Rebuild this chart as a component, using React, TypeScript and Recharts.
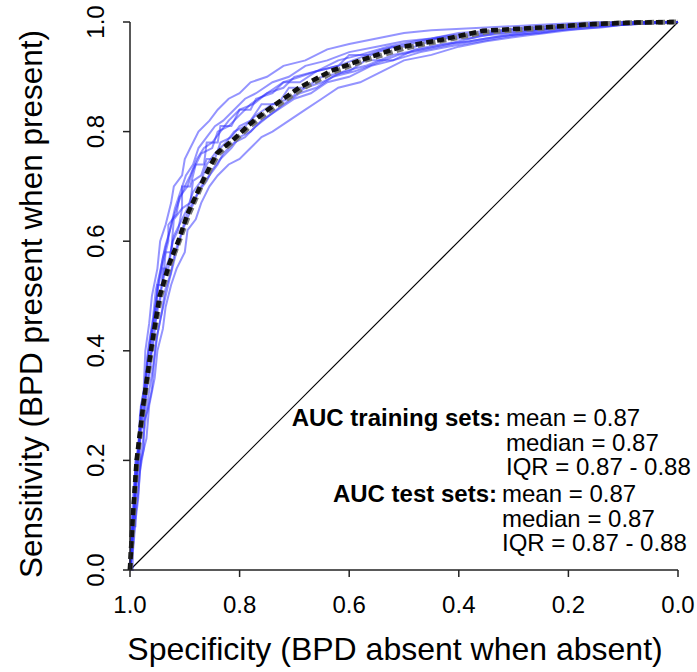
import React from "react"
import { LineChart, Line, XAxis, YAxis } from "recharts"

type Pt = { spec: number; sens: number }
const pts = (rows: number[][]): Pt[] => rows.map(([spec, sens]) => ({ spec, sens }))

// single resampling runs (training + test)
const run1 = pts([[1,0],[0.996,0.06],[0.993,0.12],[0.99,0.18],[0.985,0.22],[0.982,0.28],[0.975,0.33],[0.972,0.4],[0.965,0.45],[0.96,0.5],[0.95,0.55],[0.945,0.6],[0.935,0.63],[0.925,0.67],[0.92,0.7],[0.905,0.72],[0.9,0.75],[0.89,0.77],[0.875,0.8],[0.855,0.82],[0.84,0.84],[0.82,0.86],[0.8,0.87],[0.78,0.89],[0.75,0.9],[0.72,0.92],[0.68,0.93],[0.64,0.95],[0.6,0.96],[0.55,0.97],[0.5,0.98],[0.45,0.985],[0.35,0.99],[0.25,0.995],[0.15,1],[0,1]])
const run2 = pts([[1,0],[0.994,0.05],[0.99,0.1],[0.985,0.14],[0.98,0.2],[0.97,0.24],[0.965,0.3],[0.955,0.35],[0.95,0.4],[0.94,0.44],[0.935,0.48],[0.925,0.52],[0.915,0.55],[0.9,0.58],[0.895,0.62],[0.88,0.64],[0.87,0.67],[0.855,0.7],[0.84,0.72],[0.82,0.74],[0.8,0.75],[0.78,0.77],[0.76,0.79],[0.74,0.8],[0.71,0.82],[0.68,0.84],[0.65,0.86],[0.62,0.88],[0.58,0.89],[0.54,0.91],[0.5,0.93],[0.45,0.94],[0.4,0.955],[0.35,0.965],[0.28,0.975],[0.2,0.985],[0.1,0.995],[0,1]])
const run3 = pts([[1,0],[0.995,0.08],[0.99,0.15],[0.985,0.2],[0.98,0.26],[0.975,0.3],[0.97,0.36],[0.962,0.42],[0.955,0.47],[0.948,0.52],[0.94,0.56],[0.93,0.6],[0.93,0.63],[0.915,0.65],[0.91,0.68],[0.895,0.7],[0.885,0.73],[0.87,0.76],[0.85,0.77],[0.84,0.8],[0.82,0.81],[0.8,0.83],[0.78,0.85],[0.75,0.87],[0.72,0.88],[0.7,0.9],[0.66,0.91],[0.62,0.93],[0.58,0.94],[0.53,0.955],[0.48,0.965],[0.42,0.975],[0.35,0.98],[0.28,0.99],[0.2,0.995],[0.1,1],[0,1]])
const run4 = pts([[1,0],[0.997,0.05],[0.992,0.11],[0.988,0.17],[0.982,0.23],[0.978,0.27],[0.97,0.32],[0.965,0.37],[0.958,0.41],[0.952,0.46],[0.945,0.5],[0.938,0.54],[0.928,0.57],[0.92,0.61],[0.905,0.64],[0.895,0.66],[0.885,0.69],[0.87,0.71],[0.86,0.74],[0.845,0.76],[0.825,0.78],[0.81,0.8],[0.79,0.81],[0.77,0.83],[0.74,0.85],[0.71,0.86],[0.68,0.88],[0.65,0.89],[0.61,0.91],[0.57,0.92],[0.52,0.94],[0.47,0.95],[0.42,0.96],[0.36,0.975],[0.3,0.98],[0.22,0.99],[0.12,0.995],[0,1]])
const run5 = pts([[1,0],[0.996,0.07],[0.991,0.13],[0.987,0.19],[0.983,0.25],[0.976,0.31],[0.972,0.35],[0.966,0.41],[0.958,0.46],[0.953,0.51],[0.944,0.55],[0.936,0.59],[0.927,0.62],[0.918,0.66],[0.908,0.69],[0.898,0.72],[0.885,0.74],[0.875,0.77],[0.86,0.79],[0.845,0.81],[0.83,0.82],[0.81,0.84],[0.79,0.86],[0.77,0.87],[0.74,0.89],[0.71,0.9],[0.68,0.92],[0.64,0.93],[0.6,0.945],[0.55,0.955],[0.5,0.965],[0.45,0.97],[0.4,0.98],[0.33,0.985],[0.25,0.99],[0.18,0.995],[0.08,1],[0,1]])
const run6 = pts([[1,0],[0.995,0.06],[0.99,0.12],[0.984,0.17],[0.978,0.22],[0.972,0.27],[0.966,0.32],[0.958,0.37],[0.952,0.42],[0.944,0.46],[0.935,0.5],[0.928,0.53],[0.918,0.57],[0.91,0.6],[0.9,0.63],[0.888,0.66],[0.875,0.69],[0.86,0.71],[0.85,0.73],[0.835,0.75],[0.815,0.77],[0.8,0.79],[0.78,0.8],[0.76,0.82],[0.73,0.84],[0.7,0.86],[0.67,0.87],[0.64,0.89],[0.6,0.9],[0.56,0.92],[0.52,0.93],[0.47,0.945],[0.42,0.955],[0.36,0.965],[0.3,0.975],[0.22,0.985],[0.14,0.99],[0.06,1],[0,1]])
const run7 = pts([[1,0],[0.997,0.07],[0.994,0.14],[0.989,0.2],[0.983,0.24],[0.98,0.3],[0.972,0.34],[0.968,0.39],[0.96,0.44],[0.954,0.48],[0.947,0.53],[0.94,0.57],[0.932,0.6],[0.922,0.64],[0.912,0.67],[0.9,0.7],[0.89,0.72],[0.878,0.75],[0.865,0.77],[0.85,0.78],[0.835,0.8],[0.82,0.82],[0.8,0.84],[0.775,0.85],[0.75,0.87],[0.72,0.89],[0.69,0.9],[0.66,0.91],[0.62,0.92],[0.58,0.935],[0.54,0.95],[0.49,0.96],[0.44,0.97],[0.38,0.975],[0.3,0.985],[0.2,0.99],[0.1,0.995],[0,1]])
const run8 = pts([[1,0],[0.994,0.04],[0.99,0.09],[0.985,0.13],[0.982,0.18],[0.975,0.22],[0.975,0.27],[0.968,0.29],[0.96,0.33],[0.956,0.38],[0.95,0.43],[0.942,0.47],[0.936,0.51],[0.926,0.54],[0.918,0.58],[0.908,0.61],[0.896,0.65],[0.886,0.67],[0.87,0.7],[0.855,0.72],[0.84,0.74],[0.83,0.76],[0.81,0.78],[0.79,0.79],[0.77,0.81],[0.745,0.83],[0.72,0.85],[0.69,0.87],[0.66,0.88],[0.63,0.9],[0.59,0.91],[0.55,0.925],[0.51,0.94],[0.46,0.95],[0.41,0.96],[0.35,0.97],[0.28,0.98],[0.2,0.99],[0.1,0.995],[0,1]])
const run9 = pts([[1,0],[0.995,0],[0.995,0.08],[0.99,0.08],[0.99,0.16],[0.982,0.2],[0.982,0.26],[0.975,0.26],[0.97,0.33],[0.962,0.37],[0.962,0.43],[0.952,0.46],[0.95,0.52],[0.94,0.52],[0.935,0.58],[0.925,0.58],[0.92,0.64],[0.905,0.66],[0.905,0.7],[0.89,0.7],[0.88,0.74],[0.865,0.74],[0.86,0.78],[0.84,0.78],[0.835,0.81],[0.815,0.81],[0.8,0.84],[0.78,0.84],[0.77,0.86],[0.74,0.87],[0.72,0.89],[0.69,0.89],[0.66,0.91],[0.62,0.92],[0.6,0.94],[0.56,0.94],[0.52,0.955],[0.48,0.955],[0.44,0.97],[0.38,0.97],[0.33,0.98],[0.25,0.985],[0.2,0.995],[0.1,0.995],[0.05,1],[0,1]])
const run10 = pts([[1,0],[0.997,0.1],[0.993,0.1],[0.99,0.2],[0.984,0.22],[0.98,0.3],[0.974,0.3],[0.968,0.38],[0.96,0.4],[0.955,0.47],[0.945,0.49],[0.94,0.55],[0.93,0.55],[0.922,0.6],[0.912,0.62],[0.905,0.66],[0.89,0.67],[0.885,0.71],[0.87,0.72],[0.86,0.75],[0.845,0.75],[0.835,0.78],[0.815,0.79],[0.8,0.81],[0.78,0.82],[0.76,0.85],[0.73,0.85],[0.71,0.88],[0.68,0.88],[0.65,0.9],[0.6,0.91],[0.57,0.93],[0.52,0.93],[0.48,0.95],[0.43,0.96],[0.38,0.965],[0.32,0.975],[0.25,0.98],[0.18,0.99],[0.12,0.995],[0,1]])
const runs = [run1, run2, run3, run4, run5, run6, run7, run8, run9, run10]

// averaged curves (thick dashed)
const meanTrain = pts([[1,0],[0.996,0.08],[0.988,0.2],[0.976,0.3],[0.962,0.4],[0.946,0.5],[0.928,0.56],[0.912,0.6],[0.895,0.65],[0.872,0.7],[0.855,0.735],[0.841,0.761],[0.812,0.785],[0.78,0.815],[0.75,0.839],[0.69,0.881],[0.635,0.91],[0.58,0.93],[0.507,0.954],[0.434,0.967],[0.356,0.984],[0.234,0.991],[0.16,0.996],[0.08,0.999],[0,1]])
const meanTest = pts([[1,0],[0.995,0.08],[0.987,0.2],[0.975,0.3],[0.961,0.4],[0.944,0.5],[0.926,0.56],[0.91,0.6],[0.892,0.65],[0.87,0.7],[0.852,0.735],[0.838,0.76],[0.808,0.785],[0.776,0.814],[0.745,0.838],[0.685,0.879],[0.63,0.908],[0.575,0.929],[0.5,0.952],[0.43,0.966],[0.35,0.982],[0.23,0.99],[0.155,0.996],[0.08,0.999],[0,1]])
const chance = pts([[1,0],[0,1]])

const xTicks = [1, 0.8, 0.6, 0.4, 0.2, 0]
const yTicks = [0, 0.2, 0.4, 0.6, 0.8, 1]
const xTitle = "Specificity (BPD absent when absent)"
const yTitle = "Sensitivity (BPD present when present)"
const trainLines = ["mean = 0.87", "median = 0.87", "IQR = 0.87 - 0.88"]
const testLines = ["mean = 0.87", "median = 0.87", "IQR = 0.87 - 0.88"]

const font = "'Liberation Sans', Arial, sans-serif"

const XTick = (props: any) => (
  <text x={props.x} y={613} textAnchor="middle" fontSize={24} fontFamily={font} fill="#000">
    {props.payload.value.toFixed(1)}
  </text>
)

const YTick = (props: any) => (
  <g transform={`translate(104, ${props.y}) rotate(-90)`}>
    <text x={0} y={0} textAnchor="middle" fontSize={24} fontFamily={font} fill="#000">
      {props.payload.value.toFixed(1)}
    </text>
  </g>
)

export default function App() {
  return (
    <div style={{ position: "absolute", left: 0, top: 0, width: 697, height: 672, background: "#fff" }}>
      <LineChart width={697} height={672} margin={{ top: 22, right: 19, bottom: 0, left: 0 }}>
        <XAxis
          type="number"
          dataKey="spec"
          domain={[0, 1]}
          reversed
          ticks={xTicks}
          tick={XTick}
          tickSize={7}
          height={102}
          axisLine={{ stroke: "#222", strokeWidth: 1.5 }}
          tickLine={{ stroke: "#222", strokeWidth: 1.5 }}
        />
        <YAxis
          type="number"
          dataKey="sens"
          domain={[0, 1]}
          ticks={yTicks}
          tick={YTick}
          tickSize={7}
          width={130}
          axisLine={{ stroke: "#222", strokeWidth: 1.5 }}
          tickLine={{ stroke: "#222", strokeWidth: 1.5 }}
        />
        <Line data={chance} dataKey="sens" stroke="#000" strokeWidth={1.2} dot={false} activeDot={false} isAnimationActive={false} />
        {runs.map((r, i) => (
          <Line
            key={i}
            data={r}
            dataKey="sens"
            stroke="#2a2aff"
            strokeOpacity={0.5}
            strokeWidth={2}
            dot={false}
            activeDot={false}
            isAnimationActive={false}
          />
        ))}
        <Line data={meanTest} dataKey="sens" stroke="#777" strokeWidth={5} strokeDasharray="7 4" dot={false} activeDot={false} isAnimationActive={false} />
        <Line data={meanTrain} dataKey="sens" stroke="#111" strokeWidth={4.5} strokeDasharray="7 4" dot={false} activeDot={false} isAnimationActive={false} />
      </LineChart>
      <svg width={697} height={672} style={{ position: "absolute", left: 0, top: 0, pointerEvents: "none" }} fontFamily={font}>
        <text x={395} y={660} textAnchor="middle" fontSize={32} fill="#000">{xTitle}</text>
        <g transform="translate(42, 304) rotate(-90)">
          <text x={0} y={0} textAnchor="middle" fontSize={31.5} fill="#000">{yTitle}</text>
        </g>
        <text x={501} y={426} textAnchor="end" fontSize={24} fontWeight="bold" fill="#000">AUC training sets:</text>
        {trainLines.map((t, i) => (
          <text key={t} x={506} y={426 + i * 24.5} fontSize={24} fill="#000">{t}</text>
        ))}
        <text x={497} y={502} textAnchor="end" fontSize={24} fontWeight="bold" fill="#000">AUC test sets:</text>
        {testLines.map((t, i) => (
          <text key={t} x={502} y={502 + i * 24.5} fontSize={24} fill="#000">{t}</text>
        ))}
      </svg>
    </div>
  )
}
